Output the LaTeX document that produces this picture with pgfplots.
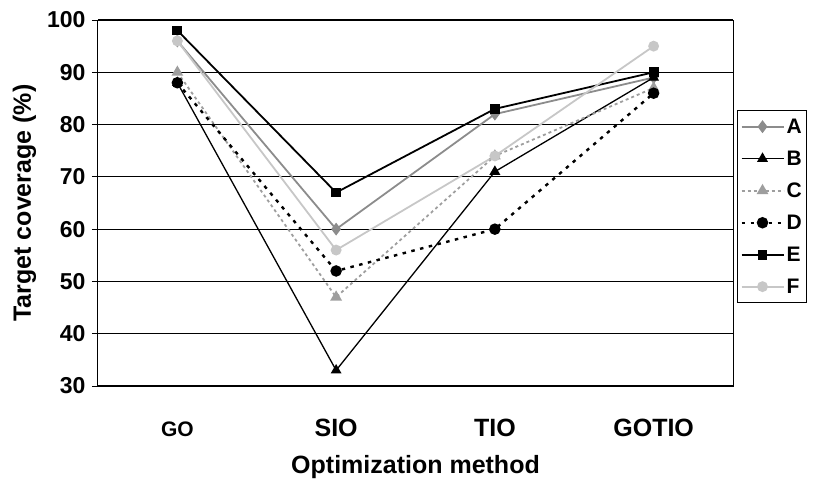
\documentclass[border=0pt]{standalone}
\usepackage{pgfplots}
\pgfplotsset{compat=1.18}
\usepackage{fontspec}
\setmainfont{Liberation Sans}
\definecolor{cA}{gray}{0.55}
\definecolor{cC}{gray}{0.62}
\definecolor{cF}{gray}{0.78}
\begin{document}
\begin{tikzpicture}[x=1pt,y=1pt]
\useasboundingbox (-98,-93) rectangle (715,386);
\begin{axis}[
  at={(0,0)}, anchor=south west,
  scale only axis, width=635pt, height=366pt,
  xmin=-0.5, xmax=3.5, ymin=30, ymax=100,
  xtick={0,1,2,3}, xticklabels={{\fontsize{21}{21}\selectfont\bfseries GO},SIO,TIO,GOTIO},
  extra x ticks={-0.5,0.5,1.5,2.5,3.5}, extra x tick labels={},
  extra x tick style={major tick length=7pt, tick style={black, line width=1pt}, tick align=outside, grid=none},
  x tick style={draw=none},
  xtick pos=bottom, ytick pos=left,
  ytick={30,40,...,100},
  ymajorgrids, grid style={black, line width=1.2pt},
  y tick style={black, line width=1pt}, tick align=outside, major tick length=6pt,
  axis line style={black, line width=1pt},
  /pgf/number format/assume math mode=true,
  yticklabel style={font=\fontsize{23}{23}\selectfont\bfseries, xshift=-3pt},
  xticklabel style={font=\fontsize{25}{25}\selectfont\bfseries, anchor=base, yshift=-44pt},
  xlabel={Optimization method}, ylabel={Target coverage (\%)},
  label style={font=\fontsize{25}{25}\selectfont\bfseries},
  xlabel style={yshift=1pt}, ylabel style={yshift=4pt},
  legend style={at={(1.006,0.49)}, anchor=west, draw=black, line width=1pt,
    font=\fontsize{21}{21}\selectfont\bfseries, row sep=12pt, inner xsep=3pt, inner ysep=6pt},
  legend cell align=left,
  legend image code/.code={\draw[mark repeat=2,mark phase=2,#1] plot coordinates {(0pt,0pt) (21pt,0pt) (42pt,0pt)};},
  every axis plot/.append style={line width=1.8pt},
]
\addplot[cA, mark=diamond*, mark size=5pt] coordinates {(0,96) (1,60) (2,82) (3,89)};
\addlegendentry{A}
\addplot[black, line width=1.3pt, mark=triangle*, mark size=5pt] coordinates {(0,88) (1,33) (2,71) (3,89)};
\addlegendentry{B}
\addplot[cC, dashed, mark=triangle*, mark size=5pt, mark options={solid}] coordinates {(0,90) (1,47) (2,74) (3,87)};
\addlegendentry{C}
\addplot[black, line width=2.4pt, dash pattern=on 3.5pt off 5.5pt, mark=*, mark size=4.5pt, mark options={solid}] coordinates {(0,88) (1,52) (2,60) (3,86)};
\addlegendentry{D}
\addplot[black, mark=square*, mark size=4pt] coordinates {(0,98) (1,67) (2,83) (3,90)};
\addlegendentry{E}
\addplot[cF, mark=*, mark size=4.5pt] coordinates {(0,96) (1,56) (2,74) (3,95)};
\addlegendentry{F}
\end{axis}
\end{tikzpicture}
\end{document}
